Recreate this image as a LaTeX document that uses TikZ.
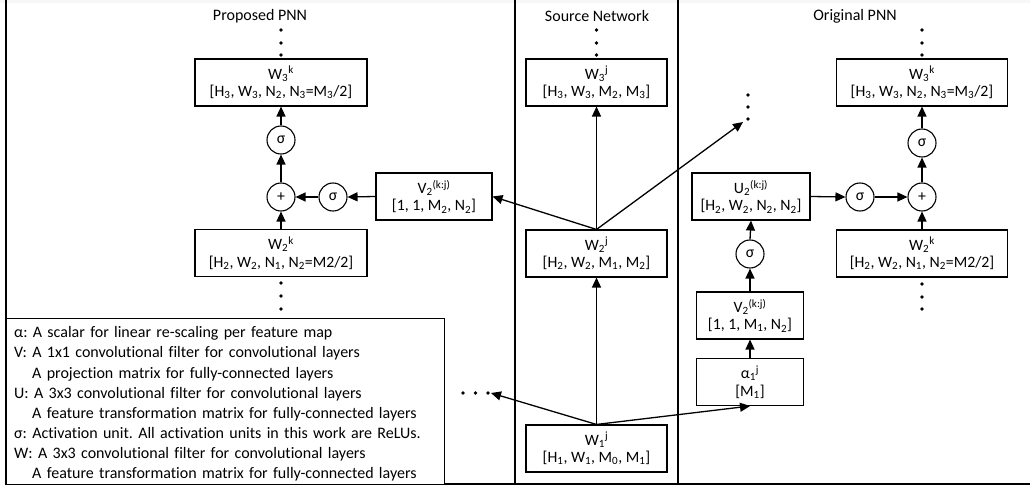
\documentclass[tikz,border=0pt]{standalone}
\usepackage{fontspec}
\setmainfont{Carlito}[Ligatures=NoCommon]
\usetikzlibrary{arrows.meta}
\frenchspacing
\newcommand{\fs}{\fontsize{15.8}{17.5}\selectfont}
\newcommand{\sbs}[1]{\textsubscript{#1}}
\newcommand{\sps}[1]{\textsuperscript{#1}}
\tikzset{
  blk/.style={draw, line width=1.1pt, fill=white, align=center, inner sep=0pt, minimum height=47pt, font=\fs},
  op/.style={circle, draw, line width=1.1pt, minimum size=28pt, inner sep=0pt, fill=white, font=\fs},
  arr/.style={-{Triangle[length=10pt,width=9pt]}, line width=1.3pt},
  dot/.style={circle, fill=black, inner sep=0pt, minimum size=3.6pt},
  ttl/.style={font=\fontsize{16}{19}\selectfont, inner sep=0pt},
  frame/.style={line width=1.6pt}
}
\begin{document}
\begin{tikzpicture}[x=1pt,y=-1pt]
\useasboundingbox (0,0) rectangle (1030,486);
\fill[black!3] (0,0) rectangle (1030,3);
% frame and dividers
\draw[frame] (6,0) -- (6,484) -- (1030,484);
\draw[frame] (515,0) -- (515,484);
\draw[frame] (678,0) -- (678,484);
% titles
\node[ttl] (t1) at (260,16) {Proposed PNN};
\node[ttl] (t2) at (597,16) {Source Network};
\node[ttl] (t3) at (855,16) {Original PNN};
% ---------- Proposed PNN ----------
\node[blk, minimum width=172pt] (w3k) at (281,82.5) {W\sbs{3}\sps{k}\\{[}H\sbs{3}, W\sbs{3}, N\sbs{2}, N\sbs{3}=M\sbs{3}/2]};
\node[op] (sL1) at (281,140) {σ};
\node[op] (pL) at (281,197) {+};
\node[op] (sL2) at (333,197) {σ};
\node[blk, minimum width=116pt] (v2L) at (434,196.5) {V\sbs{2}\sps{(k:j)}\\{[}1, 1, M\sbs{2}, N\sbs{2}]};
\node[blk, minimum width=172pt] (w2k) at (281,253) {W\sbs{2}\sps{k}\\{[}H\sbs{2}, W\sbs{2}, N\sbs{1}, N\sbs{2}=M2/2]};
\node[dot] (dL1) at (281,30) {};
\node[dot] (dL2) at (281,43) {};
\node[dot] (dL3) at (281,55) {};
\node[dot] (dL4) at (281,283) {};
\node[dot] (dL5) at (281,296) {};
\node[dot] (dL6) at (281,309) {};
% ---------- Source Network ----------
\node[blk, minimum width=141pt] (w3j) at (596.5,82.5) {W\sbs{3}\sps{j}\\{[}H\sbs{3}, W\sbs{3}, M\sbs{2}, M\sbs{3}]};
\node[blk, minimum width=141pt] (w2j) at (596.5,253.5) {W\sbs{2}\sps{j}\\{[}H\sbs{2}, W\sbs{2}, M\sbs{1}, M\sbs{2}]};
\node[blk, minimum width=141pt] (w1j) at (596.5,448.5) {W\sbs{1}\sps{j}\\{[}H\sbs{1}, W\sbs{1}, M\sbs{0}, M\sbs{1}]};
\node[dot] (dS1) at (596.5,30) {};
\node[dot] (dS2) at (596.5,43) {};
\node[dot] (dS3) at (596.5,55) {};
% free dots
\node[dot] (dU1) at (748,95) {};
\node[dot] (dU2) at (748,107) {};
\node[dot] (dU3) at (748,119) {};
\coordinate (cU) at (743,122);
\node[dot] (dH1) at (463,393) {};
\node[dot] (dH2) at (475.5,393) {};
\node[dot] (dH3) at (488,393) {};
\coordinate (cH) at (491,393);
% ---------- Original PNN ----------
\node[blk, minimum width=171pt] (w3kR) at (922,82.5) {W\sbs{3}\sps{k}\\{[}H\sbs{3}, W\sbs{3}, N\sbs{2}, N\sbs{3}=M\sbs{3}/2]};
\node[op] (sR1) at (922,143) {σ};
\node[op] (pR) at (922,197) {+};
\node[op] (sR2) at (860,197) {σ};
\node[blk, minimum width=118pt] (u2) at (751,196.5) {U\sbs{2}\sps{(k:j)}\\{[}H\sbs{2}, W\sbs{2}, N\sbs{2}, N\sbs{2}]};
\node[op] (sR3) at (750,254) {σ};
\node[blk, minimum width=107pt] (v2R) at (750,315.5) {V\sbs{2}\sps{(k:j)}\\{[}1, 1, M\sbs{1}, N\sbs{2}]};
\node[blk, minimum width=107pt] (al) at (750,382) {α\sbs{1}\sps{j}\\{[}M\sbs{1}]};
\node[blk, minimum width=171pt] (w2kR) at (922,253.5) {W\sbs{2}\sps{k}\\{[}H\sbs{2}, W\sbs{2}, N\sbs{1}, N\sbs{2}=M2/2]};
\node[dot] (dR1) at (922,30) {};
\node[dot] (dR2) at (922,43) {};
\node[dot] (dR3) at (922,55) {};
\node[dot] (dR4) at (922,284) {};
\node[dot] (dR5) at (922,297) {};
\node[dot] (dR6) at (922,309) {};
% ---------- legend ----------
\node[draw, line width=1.1pt, fill=white, anchor=north west, minimum width=438pt, minimum height=166pt, inner sep=0pt] (leg) at (6,318) {};
\node[anchor=north west, text width=430pt, inner sep=0pt, align=left, font=\fontsize{16}{20.1}\selectfont] (legtxt) at ([xshift=8pt,yshift=-8.5pt]leg.north west) {%
α: A scalar for linear re-scaling per feature map\\
V: A 1x1 convolutional filter for convolutional layers\\
\hspace*{18pt}A projection matrix for fully-connected layers\\
U: A 3x3 convolutional filter for convolutional layers\\
\hspace*{18pt}A feature transformation matrix for fully-connected layers\\
σ: Activation unit. All activation units in this work are ReLUs.\\
W: A 3x3 convolutional filter for convolutional layers\\
\hspace*{18pt}A feature transformation matrix for fully-connected layers};
% ---------- arrows ----------
\draw[arr] (w2k.north) -- (pL.south);
\draw[arr] (pL.north) -- (sL1.south);
\draw[arr] (sL1.north) -- (w3k.south);
\draw[arr] (sL2.west) -- (pL.east);
\draw[arr] (v2L.west) -- (sL2.east);
\draw[arr] (w2j.north) -- (v2L.east);
\draw[arr] (w2j.north) -- (w3j.south);
\draw[arr] (w1j.north) -- (w2j.south);
\draw[arr] (w2j.north) -- (cU);
\draw[arr] (w1j.north) -- (cH);
\draw[arr] (w1j.north) -- (al.south);
\draw[arr] (al.north) -- (v2R.south);
\draw[arr] (v2R.north) -- (sR3.south);
\draw[arr] (sR3.north) -- (u2.south);
\draw[arr] (u2.east) -- (sR2.west);
\draw[arr] (sR2.east) -- (pR.west);
\draw[arr] (w2kR.north) -- (pR.south);
\draw[arr] (pR.north) -- (sR1.south);
\draw[arr] (sR1.north) -- (w3kR.south);
\end{tikzpicture}
\end{document}
